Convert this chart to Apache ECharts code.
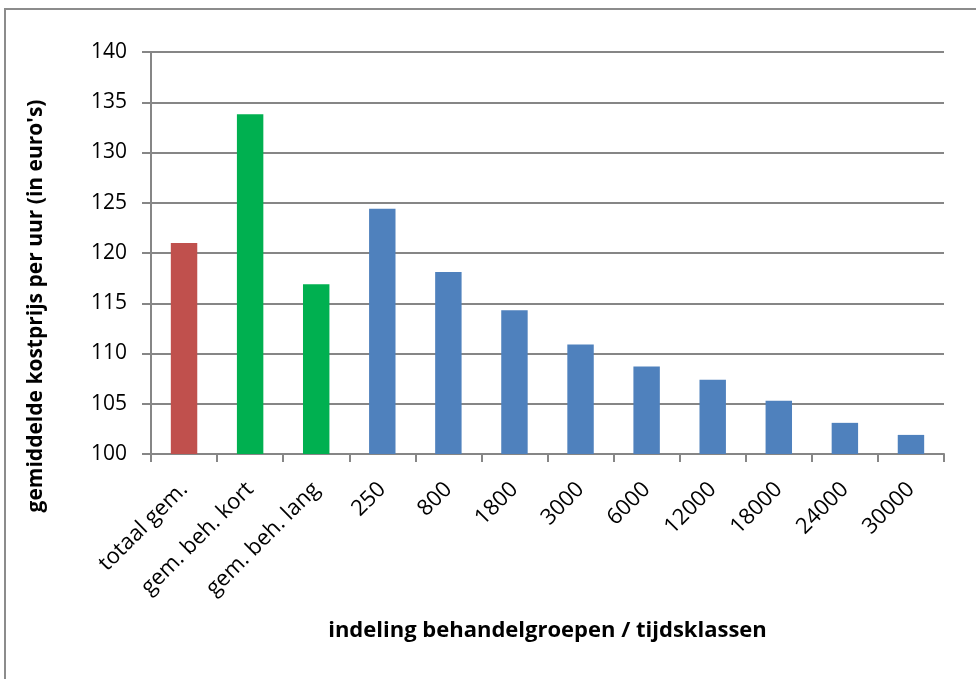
<!DOCTYPE html>
<html>
<head>
<meta charset="utf-8">
<script src="https://cdn.jsdelivr.net/npm/echarts@6/dist/echarts.min.js"></script>
<style>
html, body { margin: 0; padding: 0; background: #fff; }
#chart { width: 976px; height: 679px; }
</style>
</head>
<body>
<div id="chart"></div>
<script>
// categories and values
var categories = ['totaal gem.', 'gem. beh. kort', 'gem. beh. lang', '250', '800', '1800', '3000', '6000', '12000', '18000', '24000', '30000'];
var values = [121.0, 133.8, 116.9, 124.4, 118.1, 114.3, 110.9, 108.7, 107.4, 105.3, 103.1, 101.9];
var barColors = ['#C0504D', '#00B050', '#00B050', '#4F81BD', '#4F81BD', '#4F81BD', '#4F81BD', '#4F81BD', '#4F81BD', '#4F81BD', '#4F81BD', '#4F81BD'];
var yTicks = [100, 105, 110, 115, 120, 125, 130, 135, 140];

var font = 'Open Sans';
var gridColor = '#868686';

var chart = echarts.init(document.getElementById('chart'));
chart.setOption({
    animation: false,
    textStyle: { fontFamily: font },
    graphic: [{
        type: 'rect',
        shape: { x: 5, y: 9, width: 990, height: 700 },
        style: { fill: 'none', stroke: '#8c8c8c', lineWidth: 2 },
        z: -10
    }, {
        // y axis title, Excel centres it lower than the plot
        type: 'text',
        x: 36,
        y: 306,
        rotation: Math.PI / 2,
        style: {
            text: "gemiddelde kostprijs per uur (in euro's)",
            fontFamily: font,
            fontWeight: 'bold',
            fontSize: 21,
            fill: '#000',
            align: 'center',
            verticalAlign: 'middle'
        }
    }],
    grid: { left: 151, right: 32, top: 52, bottom: 225 },
    xAxis: {
        type: 'category',
        data: categories,
        name: 'indeling behandelgroepen / tijdsklassen',
        nameLocation: 'middle',
        nameGap: 166,
        nameTextStyle: { fontFamily: font, fontWeight: 'bold', fontSize: 22, color: '#000' },
        axisLine: { lineStyle: { color: gridColor, width: 2 } },
        axisTick: { show: true, length: 8, lineStyle: { color: gridColor, width: 2 } },
        axisLabel: { rotate: 45, fontSize: 22, color: '#000', margin: 32, interval: 0 }
    },
    yAxis: {
        type: 'value',
        min: yTicks[0],
        max: yTicks[yTicks.length - 1],
        interval: 5,
        axisLine: { show: true, lineStyle: { color: gridColor, width: 2 } },
        axisTick: { show: true, length: 9, lineStyle: { color: gridColor, width: 2 } },
        axisLabel: { fontSize: 21, color: '#000', margin: 24 },
        splitLine: { lineStyle: { color: gridColor, width: 2 } }
    },
    series: [{
        type: 'bar',
        barWidth: '40%',
        data: values.map(function (v, i) {
            return { value: v, itemStyle: { color: barColors[i] } };
        })
    }]
});
</script>
</body>
</html>
